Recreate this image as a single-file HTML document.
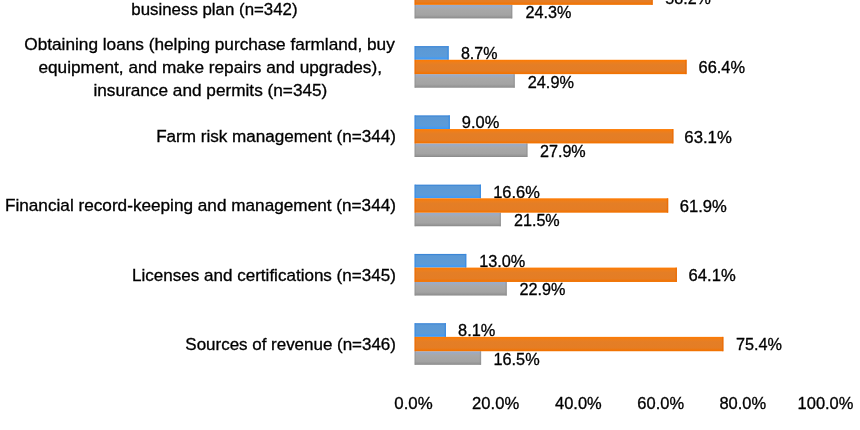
<!DOCTYPE html>
<html><head><meta charset="utf-8">
<style>
html,body{margin:0;padding:0;background:#fff;}
body{width:860px;height:430px;overflow:hidden;}
svg{display:block;}
text{font-family:"Liberation Sans",sans-serif;font-size:15.8px;fill:#000;stroke:#000;stroke-width:0.3px;}
.b{fill:url(#gb);}
.o{fill:url(#go);}
.g{fill:url(#gg);}
.eb{fill:#3a8be2;opacity:.8;}
.eo{fill:#ec6a00;opacity:.8;}
.eg{fill:#8f8f8f;opacity:.6;}
</style></head><body>
<svg width="860" height="430" viewBox="0 0 860 430">
<defs>
<linearGradient id="gb" x1="0" y1="0" x2="0" y2="1"><stop offset="0" stop-color="#2c7dd6"/><stop offset=".13" stop-color="#5b99d6"/><stop offset=".75" stop-color="#5c9bd8"/><stop offset=".92" stop-color="#3f9bf8"/><stop offset="1" stop-color="#3c98f5"/></linearGradient>
<linearGradient id="go" x1="0" y1="0" x2="0" y2="1"><stop offset="0" stop-color="#ff7a00"/><stop offset=".2" stop-color="#ec7f1e"/><stop offset=".35" stop-color="#e47e26"/><stop offset=".78" stop-color="#e57d24"/><stop offset=".93" stop-color="#f27404"/><stop offset="1" stop-color="#f07200"/></linearGradient>
<linearGradient id="gg" x1="0" y1="0" x2="0" y2="1"><stop offset="0" stop-color="#9aaccb"/><stop offset=".1" stop-color="#9cabc4"/><stop offset=".3" stop-color="#a8a8a8"/><stop offset=".75" stop-color="#a3a3a3"/><stop offset=".9" stop-color="#969696"/><stop offset="1" stop-color="#868686"/></linearGradient>
<filter id="f" x="-5%" y="-5%" width="110%" height="110%"><feGaussianBlur stdDeviation="0.35"/></filter>
</defs>
<rect x="0" y="0" width="860" height="430" fill="#fff"/>
<g filter="url(#f)">
<text transform="translate(460.90,59.20) scale(1.0157,1)">8.7%</text>
<text transform="translate(461.83,128.48) scale(1.0402,1)">9.0%</text>
<text transform="translate(493.17,197.75) scale(1.0429,1)">16.6%</text>
<text transform="translate(479.18,267.03) scale(1.0313,1)">13.0%</text>
<text transform="translate(458.09,336.30) scale(1.0357,1)">8.1%</text>
</g>
<g>
<rect class="g" x="414.6" y="4.85" width="97.70" height="13.57"/><rect class="eg" x="511.00" y="4.85" width="1.3" height="13.57"/><rect class="eg" x="414.6" y="4.85" width="1.2" height="13.57"/>
<rect class="o" x="414.6" y="-9.50" width="238.10" height="14.35"/><rect class="eo" x="651.40" y="-9.50" width="1.3" height="14.35"/><rect class="eo" x="414.6" y="-9.50" width="1.2" height="14.35"/>
<rect class="b" x="414.6" y="46.10" width="34.10" height="13.68"/><rect class="eb" x="447.40" y="46.10" width="1.3" height="13.68"/><rect class="eb" x="414.6" y="46.10" width="1.2" height="13.68"/>
<rect class="g" x="414.6" y="74.13" width="100.20" height="13.57"/><rect class="eg" x="513.50" y="74.13" width="1.3" height="13.57"/><rect class="eg" x="414.6" y="74.13" width="1.2" height="13.57"/>
<rect class="o" x="414.6" y="59.78" width="272.00" height="14.35"/><rect class="eo" x="685.30" y="59.78" width="1.3" height="14.35"/><rect class="eo" x="414.6" y="59.78" width="1.2" height="14.35"/>
<rect class="b" x="414.6" y="115.38" width="35.30" height="13.68"/><rect class="eb" x="448.60" y="115.38" width="1.3" height="13.68"/><rect class="eb" x="414.6" y="115.38" width="1.2" height="13.68"/>
<rect class="g" x="414.6" y="143.41" width="112.90" height="13.57"/><rect class="eg" x="526.20" y="143.41" width="1.3" height="13.57"/><rect class="eg" x="414.6" y="143.41" width="1.2" height="13.57"/>
<rect class="o" x="414.6" y="129.06" width="258.80" height="14.35"/><rect class="eo" x="672.10" y="129.06" width="1.3" height="14.35"/><rect class="eo" x="414.6" y="129.06" width="1.2" height="14.35"/>
<rect class="b" x="414.6" y="184.65" width="66.40" height="13.68"/><rect class="eb" x="479.70" y="184.65" width="1.3" height="13.68"/><rect class="eb" x="414.6" y="184.65" width="1.2" height="13.68"/>
<rect class="g" x="414.6" y="212.68" width="86.30" height="13.57"/><rect class="eg" x="499.60" y="212.68" width="1.3" height="13.57"/><rect class="eg" x="414.6" y="212.68" width="1.2" height="13.57"/>
<rect class="o" x="414.6" y="198.33" width="253.60" height="14.35"/><rect class="eo" x="666.90" y="198.33" width="1.3" height="14.35"/><rect class="eo" x="414.6" y="198.33" width="1.2" height="14.35"/>
<rect class="b" x="414.6" y="253.93" width="51.70" height="13.68"/><rect class="eb" x="465.00" y="253.93" width="1.3" height="13.68"/><rect class="eb" x="414.6" y="253.93" width="1.2" height="13.68"/>
<rect class="g" x="414.6" y="281.96" width="92.20" height="13.57"/><rect class="eg" x="505.50" y="281.96" width="1.3" height="13.57"/><rect class="eg" x="414.6" y="281.96" width="1.2" height="13.57"/>
<rect class="o" x="414.6" y="267.61" width="262.30" height="14.35"/><rect class="eo" x="675.60" y="267.61" width="1.3" height="14.35"/><rect class="eo" x="414.6" y="267.61" width="1.2" height="14.35"/>
<rect class="b" x="414.6" y="323.20" width="31.40" height="13.68"/><rect class="eb" x="444.70" y="323.20" width="1.3" height="13.68"/><rect class="eb" x="414.6" y="323.20" width="1.2" height="13.68"/>
<rect class="g" x="414.6" y="351.23" width="66.50" height="13.57"/><rect class="eg" x="479.80" y="351.23" width="1.3" height="13.57"/><rect class="eg" x="414.6" y="351.23" width="1.2" height="13.57"/>
<rect class="o" x="414.6" y="336.88" width="308.80" height="14.35"/><rect class="eo" x="722.10" y="336.88" width="1.3" height="14.35"/><rect class="eo" x="414.6" y="336.88" width="1.2" height="14.35"/>
</g>
<g filter="url(#f)">
<text transform="translate(665.30,4.07) scale(1.0197,1)">58.2%</text>
<text transform="translate(525.54,18.32) scale(1.0255,1)">24.3%</text>
<text transform="translate(698.53,73.35) scale(1.0393,1)">66.4%</text>
<text transform="translate(527.74,87.60) scale(1.0324,1)">24.9%</text>
<text transform="translate(684.32,142.63) scale(1.0599,1)">63.1%</text>
<text transform="translate(539.94,156.88) scale(1.0232,1)">27.9%</text>
<text transform="translate(679.72,211.90) scale(1.0530,1)">61.9%</text>
<text transform="translate(513.94,226.15) scale(1.0232,1)">21.5%</text>
<text transform="translate(688.62,281.18) scale(1.0530,1)">64.1%</text>
<text transform="translate(519.44,295.43) scale(1.0255,1)">22.9%</text>
<text transform="translate(735.94,350.45) scale(1.0301,1)">75.4%</text>
<text transform="translate(493.48,364.70) scale(1.0313,1)">16.5%</text>
<text transform="translate(131.35,14.60) scale(1.0662,1)">business plan (n=342)</text>
<text transform="translate(24.29,49.50) scale(1.0912,1)">Obtaining loans (helping purchase farmland, buy</text>
<text transform="translate(38.46,72.60) scale(1.0904,1)">equipment, and make repairs and upgrades),</text>
<text transform="translate(93.42,95.50) scale(1.0900,1)">insurance and permits (n=345)</text>
<text transform="translate(156.16,141.90) scale(1.0821,1)">Farm risk management (n=344)</text>
<text transform="translate(4.96,211.10) scale(1.0875,1)">Financial record-keeping and management (n=344)</text>
<text transform="translate(132.07,280.50) scale(1.0794,1)">Licenses and certifications (n=345)</text>
<text transform="translate(185.37,349.60) scale(1.0734,1)">Sources of revenue (n=346)</text>
<text transform="translate(394.27,409.30) scale(1.0671,1)">0.0%</text>
<text transform="translate(472.12,409.30) scale(1.0507,1)">20.0%</text>
<text transform="translate(555.04,409.30) scale(1.0435,1)">40.0%</text>
<text transform="translate(637.33,409.30) scale(1.0438,1)">60.0%</text>
<text transform="translate(719.38,409.30) scale(1.0448,1)">80.0%</text>
<text transform="translate(797.57,409.30) scale(1.0436,1)">100.0%</text>
</g>
</svg>
</body></html>
